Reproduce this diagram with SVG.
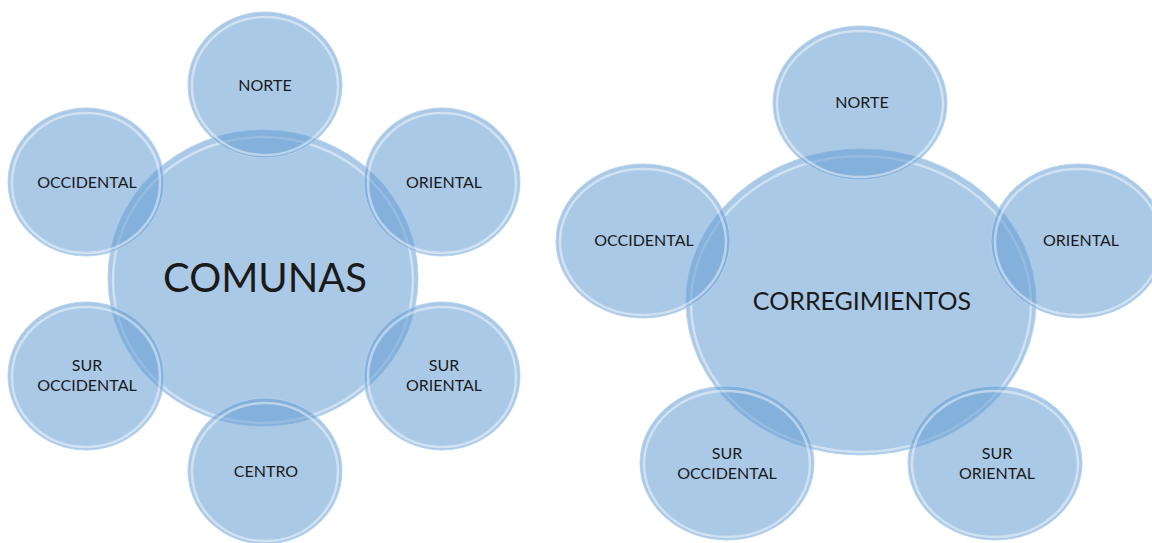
<svg xmlns="http://www.w3.org/2000/svg" width="1152" height="543" viewBox="0 0 1152 543">
<style>
.b{fill:#649dd3;fill-opacity:0.55;}
.rim{fill:none;stroke:#ffffff;stroke-opacity:0.45;stroke-width:2.5;}
.edge{fill:none;stroke:#b5d3ee;stroke-opacity:0.9;stroke-width:1;}
text{font-family:Lato,"Open Sans","Liberation Sans",sans-serif;fill:#1a1a1a;text-anchor:middle;}
.s{font-size:16px;}
</style>
<rect width="1152" height="543" fill="#ffffff"/>
<g id="comunas">
<ellipse class="b" cx="263" cy="278" rx="155" ry="148"/>
<ellipse class="edge" cx="263" cy="278" rx="155" ry="148"/>
<ellipse class="rim" cx="263" cy="280" rx="150" ry="143"/>
<text x="265" y="292" font-size="40">COMUNAS</text>
</g>
<g id="c-norte">
<ellipse class="b" cx="265" cy="85" rx="77" ry="73"/><ellipse class="edge" cx="265" cy="85" rx="77" ry="73"/><ellipse class="rim" cx="265" cy="86" rx="73" ry="69"/>
<text class="s" x="265" y="91">NORTE</text>
</g>
<g id="c-occidental">
<ellipse class="b" cx="86" cy="182" rx="78" ry="74"/><ellipse class="edge" cx="86" cy="182" rx="78" ry="74"/><ellipse class="rim" cx="86" cy="183" rx="74" ry="70"/>
<text class="s" x="87" y="188">OCCIDENTAL</text>
</g>
<g id="c-oriental">
<ellipse class="b" cx="442" cy="182" rx="78" ry="74"/><ellipse class="edge" cx="442" cy="182" rx="78" ry="74"/><ellipse class="rim" cx="442" cy="183" rx="74" ry="70"/>
<text class="s" x="444" y="188">ORIENTAL</text>
</g>
<g id="c-sur-occidental">
<ellipse class="b" cx="86" cy="376" rx="78" ry="74"/><ellipse class="edge" cx="86" cy="376" rx="78" ry="74"/><ellipse class="rim" cx="86" cy="377" rx="74" ry="70"/>
<text class="s" x="87" y="371">SUR</text><text class="s" x="87" y="391">OCCIDENTAL</text>
</g>
<g id="c-sur-oriental">
<ellipse class="b" cx="442" cy="376" rx="78" ry="74"/><ellipse class="edge" cx="442" cy="376" rx="78" ry="74"/><ellipse class="rim" cx="442" cy="377" rx="74" ry="70"/>
<text class="s" x="444" y="371">SUR</text><text class="s" x="444" y="391">ORIENTAL</text>
</g>
<g id="c-centro">
<ellipse class="b" cx="265" cy="471" rx="77" ry="73"/><ellipse class="edge" cx="265" cy="471" rx="77" ry="73"/><ellipse class="rim" cx="265" cy="472" rx="73" ry="69"/>
<text class="s" x="266" y="477">CENTRO</text>
</g>
<g id="corregimientos">
<ellipse class="b" cx="861" cy="302" rx="175" ry="153"/>
<ellipse class="edge" cx="861" cy="302" rx="175" ry="153"/>
<ellipse class="rim" cx="861" cy="304" rx="170" ry="148"/>
<text x="862" y="310" font-size="25">CORREGIMIENTOS</text>
</g>
<g id="r-norte">
<ellipse class="b" cx="860" cy="103" rx="87" ry="77"/><ellipse class="edge" cx="860" cy="103" rx="87" ry="77"/><ellipse class="rim" cx="860" cy="104" rx="83" ry="73"/>
<text class="s" x="862" y="108">NORTE</text>
</g>
<g id="r-occidental">
<ellipse class="b" cx="643" cy="241" rx="87" ry="77"/><ellipse class="edge" cx="643" cy="241" rx="87" ry="77"/><ellipse class="rim" cx="643" cy="242" rx="83" ry="73"/>
<text class="s" x="644" y="246">OCCIDENTAL</text>
</g>
<g id="r-oriental">
<ellipse class="b" cx="1078" cy="241" rx="87" ry="77"/><ellipse class="edge" cx="1078" cy="241" rx="87" ry="77"/><ellipse class="rim" cx="1078" cy="242" rx="83" ry="73"/>
<text class="s" x="1081" y="246">ORIENTAL</text>
</g>
<g id="r-sur-occidental">
<ellipse class="b" cx="727" cy="463" rx="87" ry="77"/><ellipse class="edge" cx="727" cy="463" rx="87" ry="77"/><ellipse class="rim" cx="727" cy="464" rx="83" ry="73"/>
<text class="s" x="727" y="459">SUR</text><text class="s" x="727" y="479">OCCIDENTAL</text>
</g>
<g id="r-sur-oriental">
<ellipse class="b" cx="995" cy="463" rx="87" ry="77"/><ellipse class="edge" cx="995" cy="463" rx="87" ry="77"/><ellipse class="rim" cx="995" cy="464" rx="83" ry="73"/>
<text class="s" x="997" y="459">SUR</text><text class="s" x="997" y="479">ORIENTAL</text>
</g>
<g id="connectors"></g>
</svg>
